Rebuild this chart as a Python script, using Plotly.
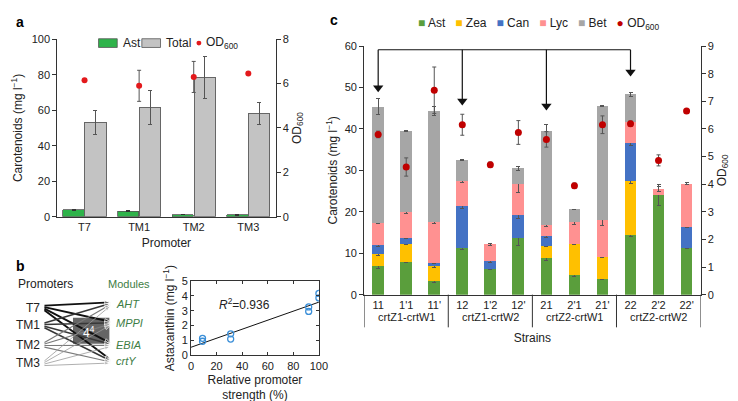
import plotly.graph_objects as go

# panel a: promoter comparison
a_promoters = ["T7", "TM1", "TM2", "TM3"]
a_ast = [4.0, 3.0, 1.2, 1.0]
a_ast_err = [0.3, 0.3, 0.2, 0.2]
a_total = [53.0, 61.6, 78.5, 58.2]
a_total_err = [6.7, 9.6, 12.0, 6.3]
a_od = [6.15, 5.9, 6.3, 6.45]
a_od_err = [0.0, 0.7, 0.7, 0.0]

# panel b: promoter/module schematic and correlation
b_promoters = ["T7", "TM1", "TM2", "TM3"]
b_modules = ["AHT", "MPPI", "EBIA", "crtY"]
b_strength = [9, 9, 31, 31, 92, 92, 100, 100]
b_astaxanthin = [0.95, 1.15, 1.1, 1.45, 2.95, 3.25, 3.85, 4.15]
b_fit_x = [0, 100]
b_fit_y = [0.55, 3.57]

# panel c: strains
strains = ["11", "1'1", "11'", "12", "1'2", "12'", "21", "2'1", "21'", "22", "2'2", "22'"]
groups = ["crtZ1-crtW1", "crtZ1-crtW2", "crtZ2-crtW1", "crtZ2-crtW2"]
ast = [6.85, 7.97, 3.35, 11.3, 6.17, 13.55, 8.8, 4.65, 3.75, 14.4, 24.0, 11.3]
zea = [3.05, 4.33, 3.51, 0, 0, 0, 2.9, 7.65, 5.25, 13.0, 0, 0]
can = [2.1, 1.35, 0.79, 10.0, 1.86, 5.65, 2.4, 0, 0, 9.2, 0, 5.1]
lyc = [5.35, 6.25, 9.95, 6.05, 4.12, 7.5, 2.65, 5.2, 9.0, 5.0, 1.5, 10.4]
bet = [28.05, 19.6, 26.7, 5.1, 0, 3.75, 22.8, 3.05, 27.5, 6.7, 0, 0]
ast_err = [0.6, 0.2, 0.35, 0.3, 0.2, 1.6, 0.5, 0.3, 0.1, 0.4, 2.5, 0.1]
zea_err = [0.35, 0.2, 0.2, 0, 0, 0, 0.2, 0.15, 0.1, 0.6, 0, 0]
can_err = [0.3, 0.2, 0.2, 0.6, 0.2, 0.8, 0.3, 0, 0, 0.7, 0, 0.2]
lyc_err = [0.2, 0.3, 0.4, 0.3, 0.2, 2.0, 0.4, 0.5, 1.2, 0.5, 0.6, 0.3]
bet_err = [2.0, 0.15, 1.0, 0.1, 0, 0.5, 1.6, 0.1, 0.1, 0.4, 0, 0]
od = [5.8, 4.62, 7.4, 6.15, 4.7, 5.87, 5.62, 3.94, 6.15, 6.19, 4.86, 6.65]
od_err = [0.12, 0.33, 0.84, 0.38, 0.1, 0.43, 0.28, 0.1, 0.32, 0.1, 0.2, 0.03]
arrow_strains = ["11", "12", "21", "22"]
arrow_tips = [49.0, 45.8, 44.6, 52.8]

FONT = "Liberation Sans"
TXT = "#222222"
W, H = 738, 401

fig = go.Figure()

# ---- panel a ----
xa = list(range(len(a_promoters)))
A_GREEN, A_GREY, A_RED = "#2eb34a", "#c3c3c3", "#e3191c"
fig.add_trace(go.Bar(
    x=[i - 0.2 for i in xa], y=a_ast, width=0.39, name="Ast", showlegend=False,
    marker=dict(color=A_GREEN, line=dict(color="#555555", width=0.8)),
    error_y=dict(type="data", array=a_ast_err, color="#333333", thickness=1, width=2),
    xaxis="x", yaxis="y"))
fig.add_trace(go.Bar(
    x=[i + 0.2 for i in xa], y=a_total, width=0.39, name="Total", showlegend=False,
    marker=dict(color=A_GREY, line=dict(color="#666666", width=1)),
    error_y=dict(type="data", array=a_total_err, color="#555555", thickness=1, width=2),
    xaxis="x", yaxis="y"))
fig.add_trace(go.Scatter(
    x=xa, y=a_od, mode="markers", name="OD600", showlegend=False,
    marker=dict(color=A_RED, size=6),
    error_y=dict(type="data", array=a_od_err, color="#555555", thickness=1, width=2),
    xaxis="x", yaxis="y2"))

# ---- panel b schematic (axes in pixel units) ----
p_y = [303, 321, 341, 360]
m_y = [299, 319, 341, 358]
line_col = ["#111111", "#383838", "#7a7a7a", "#9a9a9a"]
line_w = [1.9, 1.5, 1.1, 0.8]
for i, p in enumerate(b_promoters):
    for j, m in enumerate(b_modules):
        fig.add_trace(go.Scatter(
            x=[34, 101], y=[p_y[i] + (j - 1.5) * 1.6, m_y[j] + (i - 1.5) * 1.2],
            mode="lines+markers", showlegend=False, hoverinfo="skip",
            line=dict(color=line_col[i], width=line_w[i]),
            marker=dict(symbol="arrow", angleref="previous", size=[0, 6],
                        color=line_col[i]),
            xaxis="x2", yaxis="y3"))

# ---- panel b scatter ----
fig.add_trace(go.Scatter(
    x=b_fit_x, y=b_fit_y, mode="lines", showlegend=False,
    line=dict(color="#111111", width=1), xaxis="x3", yaxis="y4"))
fig.add_trace(go.Scatter(
    x=b_strength, y=b_astaxanthin, mode="markers", showlegend=False,
    marker=dict(symbol="circle-open", size=6, color="#3b8fd8", line=dict(width=1.3)),
    xaxis="x3", yaxis="y4"))

# ---- panel c ----
xc = list(range(len(strains)))
comp = [("Ast", ast, ast_err, "#5a9e3c"), ("Zea", zea, zea_err, "#ffc000"),
        ("Can", can, can_err, "#4472c4"), ("Lyc", lyc, lyc_err, "#ff9191"),
        ("Bet", bet, bet_err, "#a6a6a6")]
C_RED = "#c00000"
for name, vals, errs, col in comp:
    fig.add_trace(go.Bar(
        x=xc, y=[v if v else None for v in vals], width=0.42, name=name,
        showlegend=False, marker=dict(color=col, line=dict(width=0)),
        error_y=dict(type="data", array=errs, color="#555555", thickness=1, width=2),
        xaxis="x4", yaxis="y5"))
fig.add_trace(go.Scatter(
    x=xc, y=od, mode="markers", name="OD600", showlegend=False,
    marker=dict(color=C_RED, size=7),
    error_y=dict(type="data", array=od_err, color="#555555", thickness=1, width=2),
    xaxis="x4", yaxis="y6"))

# arrows in panel c
top_y = 59.1
ax_idx = [strains.index(s) for s in arrow_strains]
fig.add_trace(go.Scatter(
    x=[ax_idx[0], ax_idx[-1]], y=[top_y, top_y], mode="lines", showlegend=False,
    hoverinfo="skip", line=dict(color="#111111", width=1.2), xaxis="x4", yaxis="y5"))
for k, tip in zip(ax_idx, arrow_tips):
    fig.add_trace(go.Scatter(
        x=[k, k], y=[top_y, tip + 1.0], mode="lines", showlegend=False,
        hoverinfo="skip", line=dict(color="#111111", width=1.2),
        xaxis="x4", yaxis="y5"))
    fig.add_trace(go.Scatter(
        x=[k], y=[tip + 0.9], mode="markers", showlegend=False, hoverinfo="skip",
        marker=dict(symbol="triangle-down", size=9, color="#111111",
                    line=dict(width=0)),
        xaxis="x4", yaxis="y5"))

ax_common = dict(showgrid=False, zeroline=False, showline=True, linecolor="#333333",
                 linewidth=1, tickfont=dict(size=11, color=TXT), ticks="outside",
                 ticklen=4, tickcolor="#333333")

fig.update_layout(
    width=W, height=H, margin=dict(l=0, r=0, t=0, b=0),
    paper_bgcolor="white", plot_bgcolor="white",
    font=dict(family=FONT, size=11, color=TXT),
    barmode="stack", showlegend=False,
    xaxis=dict(ax_common, domain=[47 / W, 269 / W], range=[-0.5, 3.5],
               tickvals=xa, ticktext=a_promoters, ticks="", anchor="y",
               title=dict(text="Promoter", font=dict(size=12), standoff=6)),
    yaxis=dict(ax_common, domain=[1 - 209 / H, 1 - 26 / H], range=[0, 100], dtick=20,
               anchor="x",
               title=dict(text="Carotenoids (mg l<sup>−1</sup>)", font=dict(size=12),
                          standoff=6)),
    yaxis2=dict(ax_common, range=[0, 8], dtick=2, overlaying="y", side="right",
                anchor="x",
                title=dict(text="OD<sub>600</sub>", font=dict(size=12), standoff=4)),
    xaxis2=dict(domain=[0, 148 / W], range=[0, 148], visible=False, anchor="y3"),
    yaxis3=dict(domain=[0, 141 / H], range=[401, 260], visible=False, anchor="x2"),
    xaxis3=dict(ax_common, domain=[183 / W, 313 / W], range=[0, 100], dtick=20,
                mirror="ticks", ticks="inside", ticklen=3, anchor="y4",
                title=dict(text="Relative promoter<br>strength (%)", font=dict(size=12),
                           standoff=4)),
    yaxis4=dict(ax_common, domain=[1 - 352 / H, 1 - 275 / H], range=[0, 5], dtick=1,
                mirror="ticks", ticks="inside", ticklen=3, anchor="x3",
                title=dict(text="Astaxanthin (mg l<sup>−1</sup>)", font=dict(size=12),
                           standoff=4)),
    xaxis4=dict(ax_common, domain=[359 / W, 701 / W], range=[-0.5, len(strains) - 0.5],
                tickvals=xc, ticktext=strains, ticks="", anchor="y5",
                title=dict(text="Strains", font=dict(size=12), standoff=23)),
    yaxis5=dict(ax_common, domain=[1 - 289.3 / H, 1 - 33 / H], range=[0, 60], dtick=10,
                anchor="x4",
                title=dict(text="Carotenoids (mg l<sup>−1</sup>)", font=dict(size=12),
                           standoff=4)),
    yaxis6=dict(ax_common, range=[0, 9], dtick=1, overlaying="y5", side="right",
                anchor="x4",
                title=dict(text="OD<sub>600</sub>", font=dict(size=12), standoff=4)),
)

shapes = []
ann = []
# panel labels
for lab, px_, py_ in [("a", 3, 8), ("b", 3, 260), ("c", 322, 6)]:
    ann.append(dict(text="<b>%s</b>" % lab, x=px_ / W, y=1 - py_ / H, xref="paper",
                    yref="paper", xanchor="left", yanchor="middle", showarrow=False,
                    font=dict(size=14, color="black")))

# panel a legend (boxes + text)
ly = 1 - 30 / H
for x0, x1, col in [(89, 108, A_GREEN), (133, 152, A_GREY)]:
    shapes.append(dict(type="rect", xref="paper", yref="paper", x0=x0 / W, x1=x1 / W,
                       y0=1 - 34.5 / H, y1=1 - 25.5 / H, fillcolor=col,
                       line=dict(color="#555555", width=0.8)))
shapes.append(dict(type="circle", xref="paper", yref="paper", x0=188.5 / W,
                   x1=193.5 / W, y0=1 - 32.5 / H, y1=1 - 27.5 / H, fillcolor=A_RED,
                   line=dict(width=0)))
for txt, xl in [("Ast", 112), ("Total", 156), ("OD<sub>600</sub>", 196)]:
    ann.append(dict(text=txt, x=xl / W, y=ly, xref="paper", yref="paper",
                    xanchor="left", yanchor="middle", showarrow=False,
                    font=dict(size=12)))

# panel c legend as a single text line
sp = "&nbsp;&nbsp;&nbsp;"
items = ["<span style='color:%s'>■</span> %s" % (col, name) for name, _, _, col in comp]
items.append("<span style='color:%s'>●</span> OD<sub>600</sub>" % C_RED)
ann.append(dict(text=sp.join(items), x=536 / W, y=1 - 10 / H, xref="paper",
                yref="paper", xanchor="center", yanchor="middle", showarrow=False,
                font=dict(size=12)))

# schematic labels
ann.append(dict(text="Promoters", x=5, y=278, xref="x2", yref="y3", xanchor="left",
                showarrow=False, font=dict(size=12)))
ann.append(dict(text="Modules", x=97, y=278, xref="x2", yref="y3", xanchor="left",
                showarrow=False, font=dict(size=11, color="#3e7d45")))
for i, p in enumerate(b_promoters):
    ann.append(dict(text=p, x=32, y=p_y[i], xref="x2", yref="y3", xanchor="right",
                    showarrow=False, font=dict(size=12)))
for j, m in enumerate(b_modules):
    ann.append(dict(text="<i>%s</i>" % m, x=105, y=m_y[j], xref="x2", yref="y3",
                    xanchor="left", showarrow=False,
                    font=dict(size=11, color="#3e7d45")))
shapes.append(dict(type="rect", x0=63, x1=100, y0=313, y1=340, xref="x2", yref="y3",
                   fillcolor="#4a4a4a", opacity=0.85, line=dict(width=0), layer="below"))
ann.append(dict(text="4<sup>4</sup>", x=79, y=328, xref="x2", yref="y3",
                showarrow=False, font=dict(size=12, color="white")))

# R2 label
ann.append(dict(text="<i>R</i><sup>2</sup>=0.936", x=42, y=3.45, xref="x3", yref="y4",
                showarrow=False, font=dict(size=12)))

# group separators and labels
for g in range(len(groups) + 1):
    xs = g * 3 - 0.5
    shapes.append(dict(type="line", x0=xs, x1=xs, y0=1 - 323 / H, y1=1 - 289.3 / H,
                       xref="x4", yref="paper", line=dict(color="#333333", width=1)))
for g, name in enumerate(groups):
    ann.append(dict(text=name, x=g * 3 + 1, y=1 - 321 / H, xref="x4", yref="paper",
                    showarrow=False, font=dict(size=11)))

fig.update_layout(shapes=shapes, annotations=ann)
fig.write_html("out.html")
